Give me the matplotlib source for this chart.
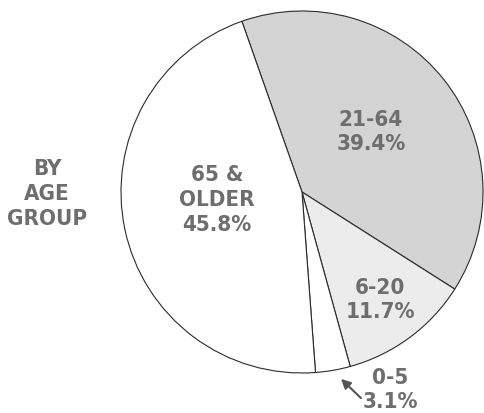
import numpy as np
import matplotlib
matplotlib.use("Agg")
import matplotlib.pyplot as plt

# Data
groups = ['21-64', '6-20', '0-5', '65 &\nOLDER']
shares = [39.4, 11.7, 3.1, 45.8]
colors = ['#d4d4d4', '#ececec', '#ffffff', '#ffffff']

fig = plt.figure(figsize=(4.85, 4.14), dpi=100)
ax = fig.add_axes([0, 0, 1, 1])

# pie in pixel-like coords (y up)
ax.pie(shares, colors=colors, startangle=109.4, counterclock=False,
       center=(302, 221), radius=181, frame=True,
       wedgeprops=dict(edgecolor='#2b2b2b', linewidth=0.8))
ax.set_xlim(0, 485)
ax.set_ylim(0, 414)
ax.axis('off')

fnt = dict(family=['DejaVu Sans'], stretch='condensed', weight='bold',
           color='#6e6e6e', fontsize=16, ha='center', va='center',
           linespacing=1.3)

lab = [f'{g}\n{s}%' for g, s in zip(groups, shares)]
ax.text(371, 414 - 132, lab[0], **fnt)
ax.text(380, 414 - 300, lab[1], **fnt)
ax.text(390, 414 - 390, lab[2], **fnt)
ax.text(217, 414 - 200, lab[3], **fnt)
ax.text(47, 414 - 194, 'BY\nAGE\nGROUP', **fnt)

ax.annotate('', xy=(339, 414 - 378), xytext=(363, 414 - 401),
            arrowprops=dict(arrowstyle='-|>', color='#555555', lw=1.5,
                            mutation_scale=14))

fig.savefig('out.png', dpi=100)
